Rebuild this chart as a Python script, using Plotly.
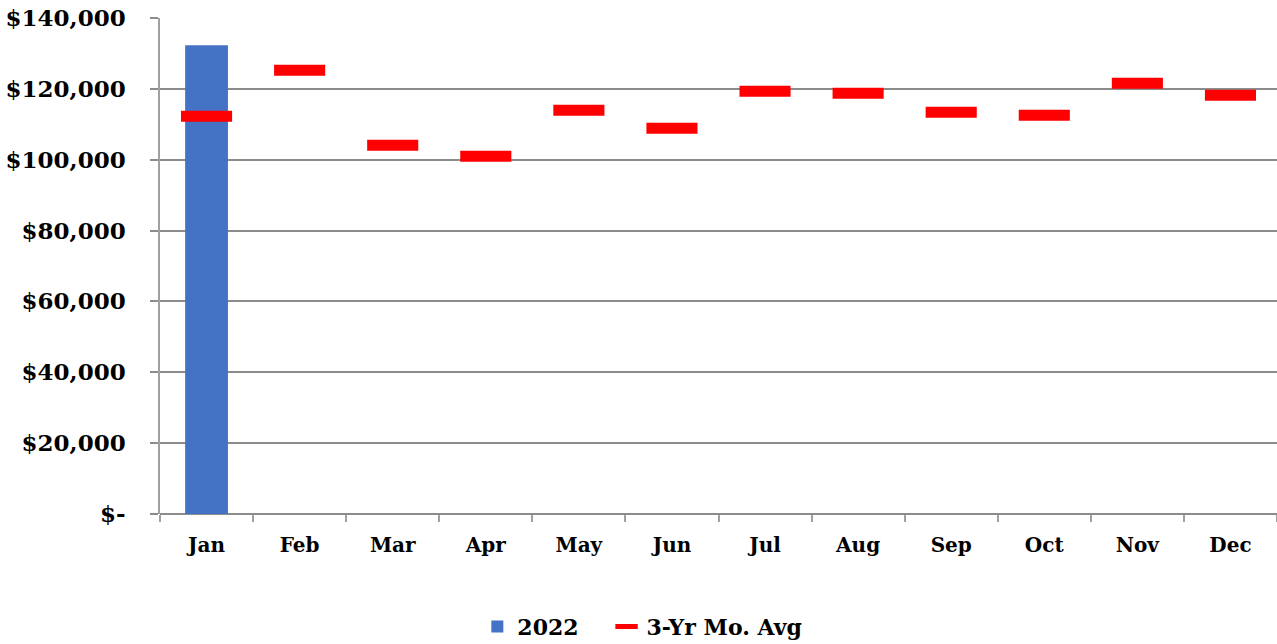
import plotly.graph_objects as go

months = ["Jan", "Feb", "Mar", "Apr", "May", "Jun",
          "Jul", "Aug", "Sep", "Oct", "Nov", "Dec"]
sales_2022 = [132300, None, None, None, None, None,
              None, None, None, None, None, None]
three_yr_avg = [112250, 125230, 104060, 100950, 113930, 108860,
                119300, 118730, 113370, 112520, 121550, 118170]
y_ticks = [0, 20000, 40000, 60000, 80000, 100000, 120000, 140000]
y_tick_text = ["$-", "$20,000", "$40,000", "$60,000", "$80,000",
               "$100,000", "$120,000", "$140,000"]

FONT = "DejaVu Serif"
GRID = "#8c8c8c"
NBSP = "\u00a0"

fig = go.Figure()
fig.add_trace(go.Bar(
    x=months, y=sales_2022, name="2022" + NBSP * 3,
    marker=dict(color="#4472C4", line=dict(width=0)),
    width=0.46,
))
# line-ew marker length is 1.4 x size, so size 36 gives a ~51 px dash
fig.add_trace(go.Scatter(
    x=months, y=three_yr_avg, name="3-Yr Mo. Avg", mode="markers",
    marker=dict(symbol="line-ew", size=36.5, color="#FF0000",
                line=dict(color="#FF0000", width=11)),
))

fig.update_layout(
    width=1277, height=644,
    margin=dict(l=160, r=0, t=18, b=130),
    plot_bgcolor="white", paper_bgcolor="white",
    font=dict(family=FONT, size=21, color="black"),
    showlegend=True,
    legend=dict(
        orientation="h", xref="container", yref="container",
        x=0.503, xanchor="center", y=0.027, yanchor="middle",
        font=dict(family=FONT, size=22, color="black", weight="bold"),
        itemwidth=30, traceorder="normal",
    ),
)
fig.update_xaxes(
    type="category", range=[-0.5, 11.5], tickson="boundaries",
    ticks="outside", ticklen=7, tickcolor="#a0a0a0", tickwidth=1.5,
    showgrid=False, showline=False,
    tickfont=dict(family=FONT, size=20, color="black", weight="bold"),
    ticklabelstandoff=17,
)
fig.update_yaxes(
    range=[0, 140000], tickvals=y_ticks, ticktext=y_tick_text,
    showgrid=True, gridcolor=GRID, gridwidth=2,
    zeroline=True, zerolinecolor=GRID, zerolinewidth=2,
    showline=True, linecolor="#a0a0a0", linewidth=1.5,
    ticks="outside", ticklen=8, tickcolor=GRID, tickwidth=2,
    tickfont=dict(family=FONT, size=23, color="black", weight="bold"),
    ticklabelstandoff=20,
)

fig.write_html("out.html")
